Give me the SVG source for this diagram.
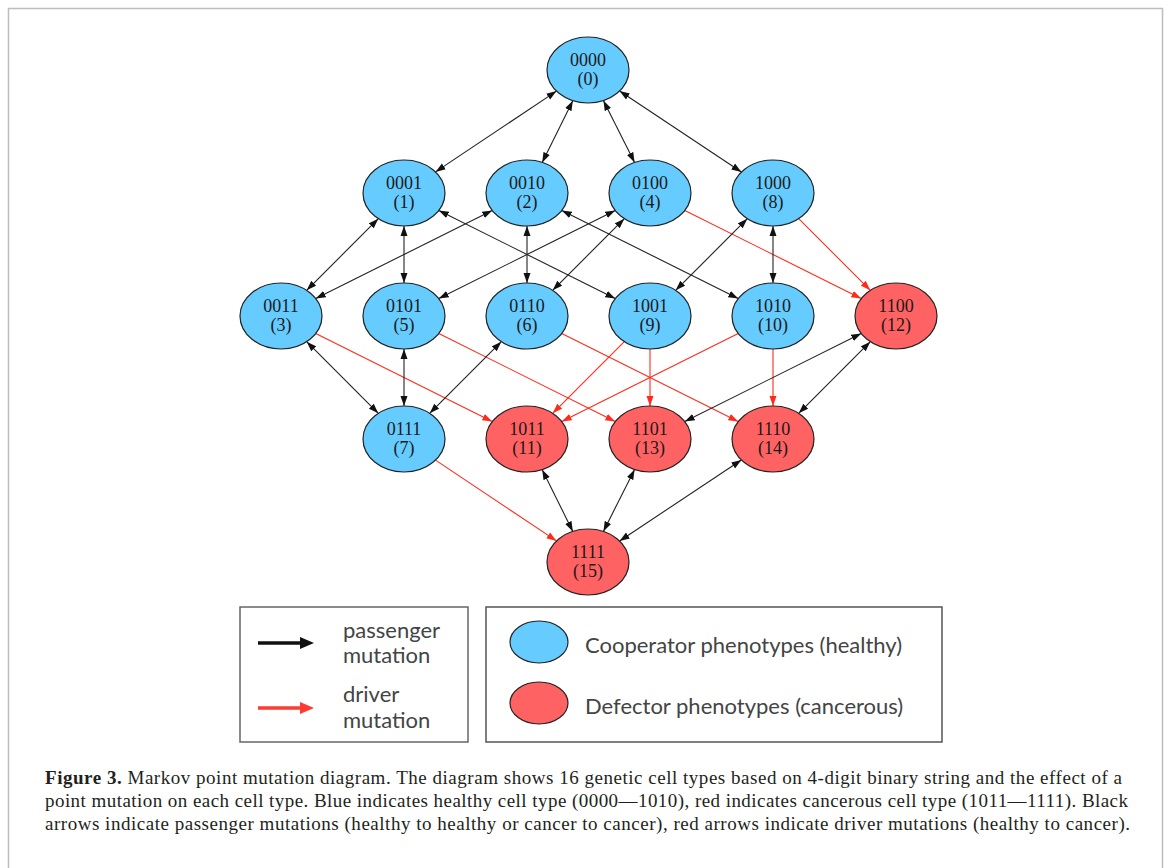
<svg xmlns="http://www.w3.org/2000/svg" width="1168" height="868" viewBox="0 0 1168 868">
<style>
.h{fill:#66ccff;stroke:#222;stroke-width:1.2}
.c{fill:#ff6262;stroke:#222;stroke-width:1.2}
.t{font-family:"Liberation Serif",serif;font-size:18px;text-anchor:middle;fill:#1a1a1a}
.e{stroke:#222;stroke-width:1.1;fill:none;marker-start:url(#ab);marker-end:url(#ab)}
.r{stroke:#ff2a1a;stroke-width:1.1;fill:none;marker-end:url(#ar)}
.lg{font-family:Lato,"Open Sans",sans-serif;font-size:22px;fill:#444}
.cap{font-family:"Liberation Serif",serif;font-size:19px;fill:#231f20}
</style>
<defs>
<marker id="ab" markerUnits="userSpaceOnUse" markerWidth="10" markerHeight="8" viewBox="0 0 10 7" refX="10" refY="3.5" orient="auto-start-reverse"><path d="M0,0 L10,3.5 L0,7 z" fill="#111"/></marker>
<marker id="ar" markerUnits="userSpaceOnUse" markerWidth="10" markerHeight="8" viewBox="0 0 10 7" refX="10" refY="3.5" orient="auto-start-reverse"><path d="M0,0 L10,3.5 L0,7 z" fill="#ff2a1a"/></marker>
<marker id="lb" markerUnits="userSpaceOnUse" markerWidth="14" markerHeight="12" viewBox="0 0 14 12" refX="2" refY="6" orient="auto"><path d="M0,0 L14,6 L0,12 z" fill="#111"/></marker>
<marker id="lr" markerUnits="userSpaceOnUse" markerWidth="14" markerHeight="12" viewBox="0 0 14 12" refX="2" refY="6" orient="auto"><path d="M0,0 L14,6 L0,12 z" fill="#ff3a30"/></marker>
</defs>
<rect width="1168" height="868" fill="#fff"/>
<path d="M8.5,868 V8.5 H1162.5 V868" fill="none" stroke="#bdbdbd" stroke-width="1.5"/>

<g id="connectors">
<line class="e" x1="556.5" y1="91.1" x2="435.5" y2="171.9"/>
<line class="e" x1="572.8" y1="100.7" x2="542.2" y2="162.4"/>
<line class="e" x1="603.4" y1="100.6" x2="634.6" y2="162.4"/>
<line class="e" x1="619.6" y1="91" x2="741.4" y2="172"/>
<line class="e" x1="378.3" y1="218.7" x2="306.7" y2="290.3"/>
<line class="e" x1="404" y1="226" x2="404" y2="283"/>
<line class="e" x1="438.8" y1="210.4" x2="615.2" y2="298.6"/>
<line class="e" x1="492.2" y1="210.4" x2="315.8" y2="298.6"/>
<line class="e" x1="527" y1="226" x2="527" y2="283"/>
<line class="e" x1="561.8" y1="210.4" x2="738.2" y2="298.6"/>
<line class="e" x1="615.2" y1="210.4" x2="438.8" y2="298.6"/>
<line class="e" x1="624.3" y1="218.7" x2="552.7" y2="290.3"/>
<line class="r" x1="684.8" y1="210.4" x2="861.2" y2="298.6"/>
<line class="e" x1="747.3" y1="218.7" x2="675.7" y2="290.3"/>
<line class="e" x1="773" y1="226" x2="773" y2="283"/>
<line class="r" x1="798.7" y1="218.7" x2="870.3" y2="290.3"/>
<line class="e" x1="306.7" y1="341.7" x2="378.3" y2="413.3"/>
<line class="r" x1="315.8" y1="333.4" x2="492.2" y2="421.6"/>
<line class="e" x1="404" y1="349" x2="404" y2="406"/>
<line class="r" x1="438.8" y1="333.4" x2="615.2" y2="421.6"/>
<line class="e" x1="501.3" y1="341.7" x2="429.7" y2="413.3"/>
<line class="r" x1="561.8" y1="333.4" x2="738.2" y2="421.6"/>
<line class="r" x1="624.3" y1="341.7" x2="552.7" y2="413.3"/>
<line class="r" x1="650" y1="349" x2="650" y2="406"/>
<line class="r" x1="738.2" y1="333.4" x2="561.8" y2="421.6"/>
<line class="r" x1="773" y1="349" x2="773" y2="406"/>
<line class="e" x1="861.2" y1="333.4" x2="684.8" y2="421.6"/>
<line class="e" x1="870.3" y1="341.7" x2="798.7" y2="413.3"/>
<line class="r" x1="435.5" y1="460.1" x2="556.5" y2="540.9"/>
<line class="e" x1="542.2" y1="469.7" x2="572.8" y2="531.4"/>
<line class="e" x1="634.6" y1="469.6" x2="603.4" y2="531.4"/>
<line class="e" x1="741.4" y1="460" x2="619.6" y2="541"/>
</g>

<g id="n0"><ellipse class="h" cx="588" cy="70" rx="41" ry="33"/><text class="t" x="588" y="66">0000</text><text class="t" x="588" y="85">(0)</text></g>
<g id="n1"><ellipse class="h" cx="404" cy="193" rx="41" ry="33"/><text class="t" x="404" y="189">0001</text><text class="t" x="404" y="208">(1)</text></g>
<g id="n2"><ellipse class="h" cx="527" cy="193" rx="41" ry="33"/><text class="t" x="527" y="189">0010</text><text class="t" x="527" y="208">(2)</text></g>
<g id="n4"><ellipse class="h" cx="650" cy="193" rx="41" ry="33"/><text class="t" x="650" y="189">0100</text><text class="t" x="650" y="208">(4)</text></g>
<g id="n8"><ellipse class="h" cx="773" cy="193" rx="41" ry="33"/><text class="t" x="773" y="189">1000</text><text class="t" x="773" y="208">(8)</text></g>
<g id="n3"><ellipse class="h" cx="281" cy="316" rx="41" ry="33"/><text class="t" x="281" y="312">0011</text><text class="t" x="281" y="331">(3)</text></g>
<g id="n5"><ellipse class="h" cx="404" cy="316" rx="41" ry="33"/><text class="t" x="404" y="312">0101</text><text class="t" x="404" y="331">(5)</text></g>
<g id="n6"><ellipse class="h" cx="527" cy="316" rx="41" ry="33"/><text class="t" x="527" y="312">0110</text><text class="t" x="527" y="331">(6)</text></g>
<g id="n9"><ellipse class="h" cx="650" cy="316" rx="41" ry="33"/><text class="t" x="650" y="312">1001</text><text class="t" x="650" y="331">(9)</text></g>
<g id="n10"><ellipse class="h" cx="773" cy="316" rx="41" ry="33"/><text class="t" x="773" y="312">1010</text><text class="t" x="773" y="331">(10)</text></g>
<g id="n12"><ellipse class="c" cx="896" cy="316" rx="41" ry="33"/><text class="t" x="896" y="312">1100</text><text class="t" x="896" y="331">(12)</text></g>
<g id="n7"><ellipse class="h" cx="404" cy="439" rx="41" ry="33"/><text class="t" x="404" y="435">0111</text><text class="t" x="404" y="454">(7)</text></g>
<g id="n11"><ellipse class="c" cx="527" cy="439" rx="41" ry="33"/><text class="t" x="527" y="435">1011</text><text class="t" x="527" y="454">(11)</text></g>
<g id="n13"><ellipse class="c" cx="650" cy="439" rx="41" ry="33"/><text class="t" x="650" y="435">1101</text><text class="t" x="650" y="454">(13)</text></g>
<g id="n14"><ellipse class="c" cx="773" cy="439" rx="41" ry="33"/><text class="t" x="773" y="435">1110</text><text class="t" x="773" y="454">(14)</text></g>
<g id="n15"><ellipse class="c" cx="588" cy="562" rx="41" ry="33"/><text class="t" x="588" y="558">1111</text><text class="t" x="588" y="577">(15)</text></g>

<g id="legend-mutations">
<rect x="240" y="607" width="228" height="135" fill="#fff" stroke="#666" stroke-width="1.5"/>
<line x1="258" y1="643" x2="302" y2="643" stroke="#111" stroke-width="3.5" marker-end="url(#lb)"/>
<line x1="258" y1="708" x2="302" y2="708" stroke="#ff3a30" stroke-width="3.5" marker-end="url(#lr)"/>
<text class="lg" x="343" y="638">passenger</text>
<text class="lg" x="343" y="663">mutation</text>
<text class="lg" x="343" y="702">driver</text>
<text class="lg" x="343" y="728">mutation</text>
</g>
<g id="legend-phenotypes">
<rect x="486" y="607" width="456" height="135" fill="#fff" stroke="#555" stroke-width="1.5"/>
<ellipse class="h" cx="539" cy="642" rx="29" ry="21"/>
<ellipse class="c" cx="539" cy="703" rx="29" ry="21"/>
<text class="lg" x="585" y="653">Cooperator phenotypes (healthy)</text>
<text class="lg" x="585" y="714">Defector phenotypes (cancerous)</text>
</g>

<g id="caption">
<text class="cap" x="45" y="784" textLength="1077" lengthAdjust="spacing"><tspan font-weight="bold">Figure 3.</tspan>  Markov point mutation diagram. The diagram shows 16 genetic cell types based on 4-digit binary string and the effect of a</text>
<text class="cap" x="45" y="807" textLength="1083" lengthAdjust="spacing">point mutation on each cell type. Blue indicates healthy cell type (0000—1010), red indicates cancerous cell type (1011—1111). Black</text>
<text class="cap" x="45" y="830" textLength="1085" lengthAdjust="spacing">arrows indicate passenger mutations (healthy to healthy or cancer to cancer), red arrows indicate driver mutations (healthy to cancer).</text>
</g>
</svg>
